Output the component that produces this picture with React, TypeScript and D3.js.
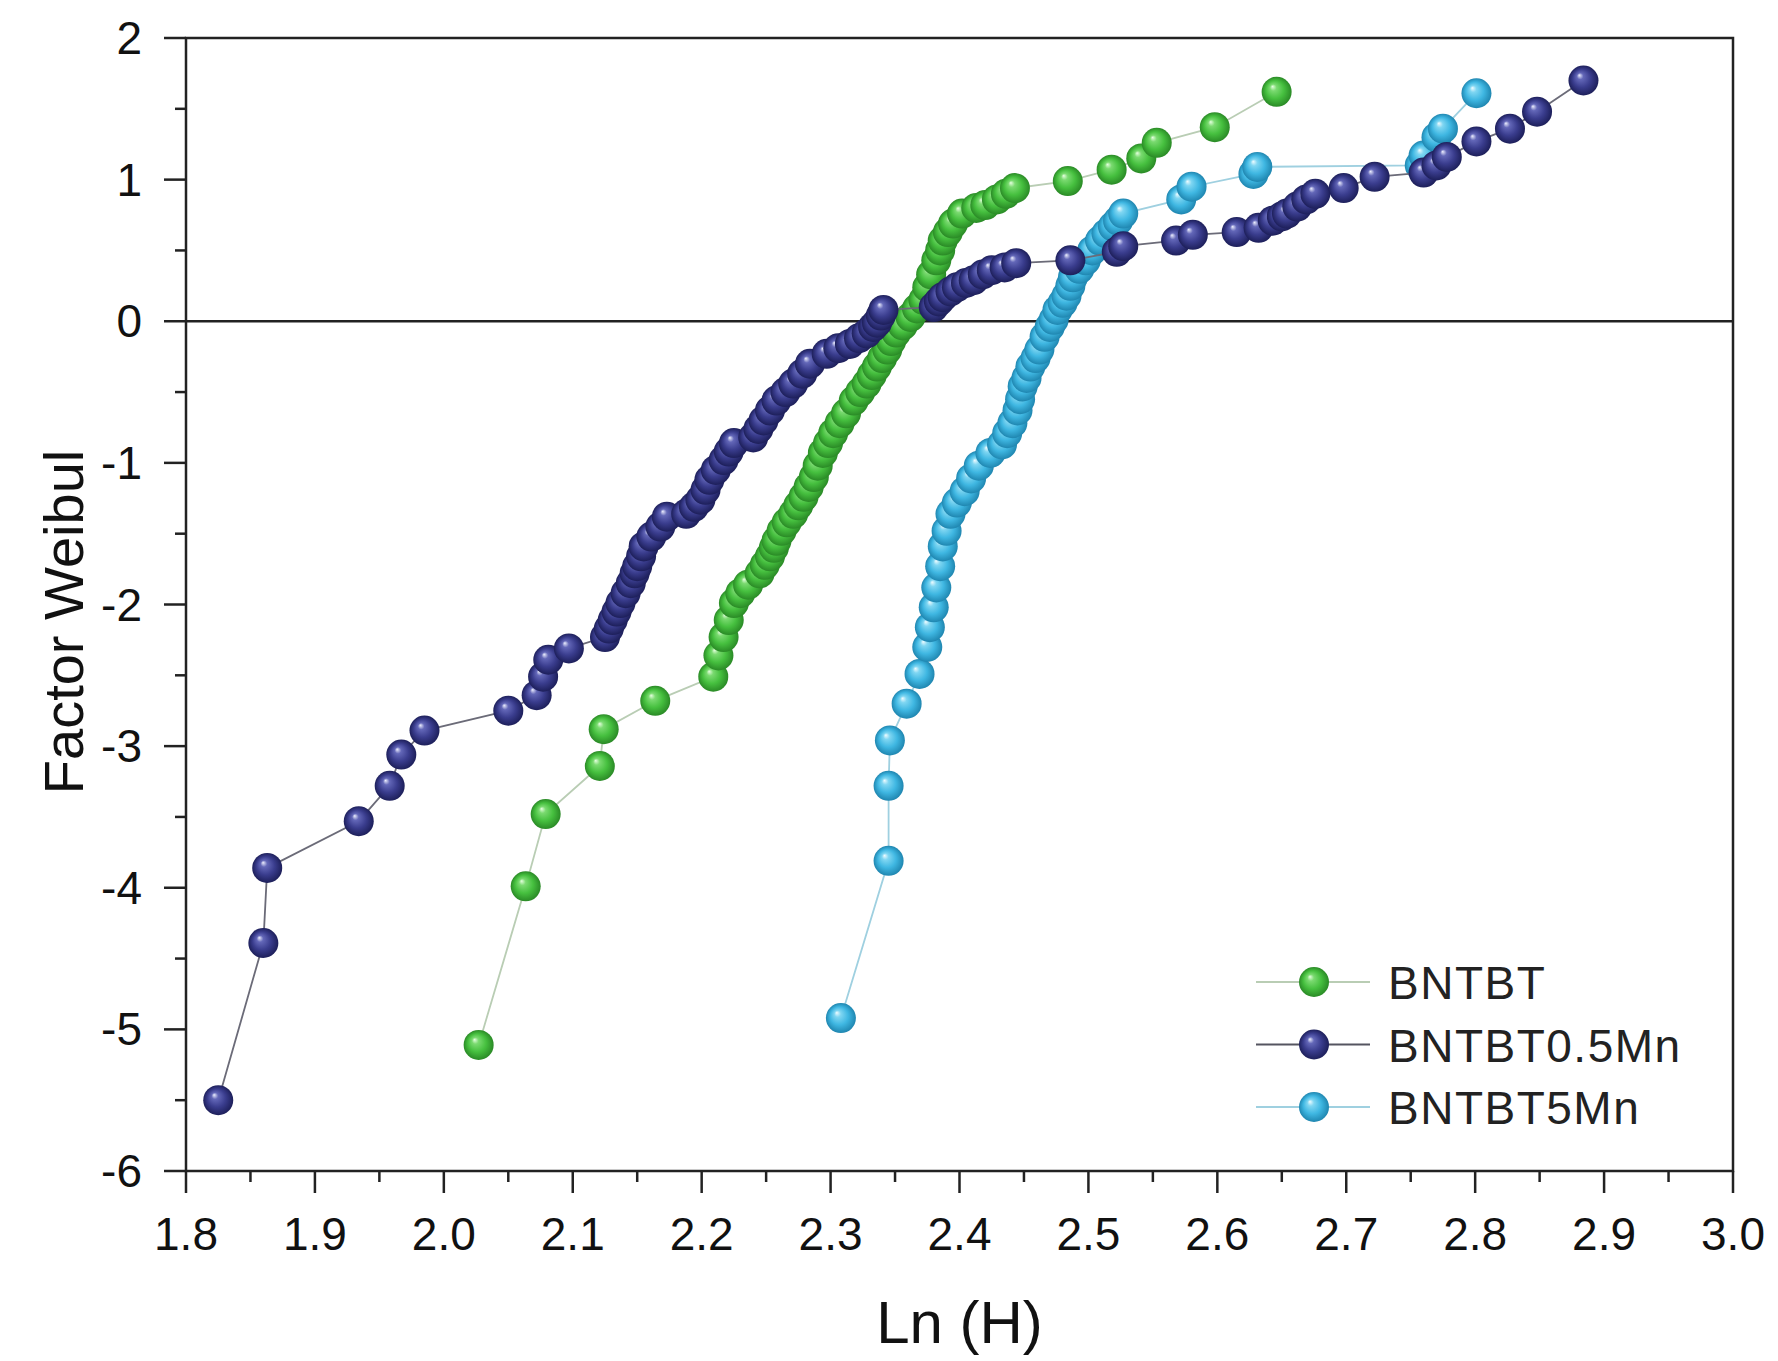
import React from 'react';
import * as d3 from 'd3';

const W = 1778;
const H = 1361;

// x: Ln(H), y: Weibull factor
const xMajorTicks = [1.8, 1.9, 2.0, 2.1, 2.2, 2.3, 2.4, 2.5, 2.6, 2.7, 2.8, 2.9, 3.0];
const yMajorTicks = [-6, -5, -4, -3, -2, -1, 0, 1, 2];

const seriesNames = ['BNTBT', 'BNTBT0.5Mn', 'BNTBT5Mn'];

const bntbt: [number, number][] = [
  [2.027, -5.11], [2.0635, -3.99], [2.079, -3.48], [2.121, -3.14], [2.124, -2.88], [2.164, -2.68],
  [2.209, -2.51], [2.213, -2.36], [2.217, -2.23], [2.221, -2.11], [2.225, -1.99], [2.230, -1.92],
  [2.236, -1.86], [2.245, -1.78], [2.249, -1.72], [2.253, -1.66], [2.256, -1.60], [2.258, -1.55],
  [2.262, -1.48], [2.266, -1.42], [2.271, -1.36], [2.275, -1.30], [2.279, -1.24], [2.283, -1.17],
  [2.287, -1.10], [2.290, -1.02], [2.294, -0.93], [2.298, -0.86], [2.302, -0.79], [2.307, -0.72],
  [2.312, -0.65], [2.318, -0.56], [2.323, -0.50], [2.328, -0.44], [2.332, -0.38], [2.336, -0.32],
  [2.340, -0.26], [2.344, -0.20], [2.347, -0.14], [2.351, -0.08], [2.356, -0.03], [2.362, 0.03],
  [2.367, 0.09], [2.372, 0.15], [2.375, 0.24], [2.378, 0.33], [2.382, 0.43], [2.385, 0.50],
  [2.387, 0.57], [2.391, 0.63], [2.395, 0.69], [2.402, 0.76], [2.413, 0.80], [2.420, 0.82],
  [2.429, 0.86], [2.436, 0.90], [2.443, 0.94], [2.484, 0.99], [2.518, 1.07], [2.541, 1.15],
  [2.553, 1.26], [2.598, 1.37], [2.646, 1.62],
];

const bntbt05Mn: [number, number][] = [
  [1.825, -5.50], [1.860, -4.39], [1.863, -3.86], [1.934, -3.53], [1.958, -3.28], [1.967, -3.06],
  [1.985, -2.89], [2.050, -2.75], [2.072, -2.64], [2.077, -2.51], [2.081, -2.39], [2.097, -2.31],
  [2.125, -2.23], [2.128, -2.17], [2.131, -2.11], [2.134, -2.05], [2.137, -1.99], [2.141, -1.92],
  [2.145, -1.85], [2.148, -1.78], [2.150, -1.73], [2.153, -1.66], [2.155, -1.59], [2.161, -1.52],
  [2.168, -1.45], [2.173, -1.38], [2.188, -1.36], [2.194, -1.31], [2.199, -1.26], [2.203, -1.19],
  [2.206, -1.12], [2.211, -1.05], [2.217, -0.98], [2.221, -0.92], [2.225, -0.86], [2.240, -0.82],
  [2.244, -0.76], [2.248, -0.70], [2.253, -0.63], [2.258, -0.56], [2.265, -0.50], [2.271, -0.44],
  [2.278, -0.37], [2.284, -0.30], [2.297, -0.23], [2.306, -0.19], [2.315, -0.16], [2.322, -0.12],
  [2.328, -0.085], [2.333, -0.04], [2.336, -0.01], [2.339, 0.04], [2.341, 0.08], [2.380, 0.10],
  [2.384, 0.14], [2.387, 0.17], [2.393, 0.21], [2.398, 0.24], [2.405, 0.27], [2.411, 0.29],
  [2.418, 0.33], [2.425, 0.36], [2.435, 0.38], [2.444, 0.41], [2.486, 0.43], [2.522, 0.49],
  [2.527, 0.53], [2.568, 0.57], [2.581, 0.61], [2.615, 0.63], [2.632, 0.66], [2.643, 0.71],
  [2.650, 0.74], [2.654, 0.76], [2.662, 0.81], [2.669, 0.86], [2.676, 0.90], [2.698, 0.94],
  [2.722, 1.02], [2.760, 1.05], [2.770, 1.10], [2.778, 1.16], [2.801, 1.27], [2.827, 1.36],
  [2.848, 1.48], [2.884, 1.70],
];

const bntbt5Mn: [number, number][] = [
  [2.308, -4.92], [2.345, -3.81], [2.345, -3.28], [2.346, -2.96], [2.359, -2.70], [2.369, -2.49],
  [2.375, -2.30], [2.377, -2.16], [2.380, -2.02], [2.382, -1.88], [2.385, -1.73], [2.387, -1.59],
  [2.390, -1.48], [2.393, -1.36], [2.398, -1.28], [2.404, -1.20], [2.409, -1.11], [2.415, -1.02],
  [2.424, -0.93], [2.433, -0.87], [2.437, -0.79], [2.441, -0.72], [2.445, -0.63], [2.447, -0.55],
  [2.449, -0.46], [2.452, -0.40], [2.455, -0.32], [2.459, -0.26], [2.462, -0.20], [2.466, -0.11],
  [2.470, -0.04], [2.473, 0.01], [2.476, 0.08], [2.480, 0.13], [2.483, 0.18], [2.486, 0.25],
  [2.488, 0.31], [2.493, 0.37], [2.498, 0.43], [2.503, 0.50], [2.509, 0.57], [2.514, 0.62],
  [2.519, 0.67], [2.523, 0.71], [2.527, 0.76], [2.572, 0.86], [2.580, 0.95], [2.628, 1.04],
  [2.631, 1.09], [2.757, 1.10], [2.760, 1.17], [2.770, 1.30], [2.775, 1.36], [2.801, 1.61],
];

type Style = { id: string; hi: string; mid: string; base: string; edge: string; line: string };

const styles: Style[] = [
  { id: 'ballGreen', hi: '#e6ffe0', mid: '#7ada70', base: '#46c03f', edge: '#2a8a26', line: '#b9cdb4' },
  { id: 'ballNavy', hi: '#eef0ff', mid: '#6367b8', base: '#3a3d8e', edge: '#1d1f5a', line: '#6b6b78' },
  { id: 'ballCyan', hi: '#f0fcff', mid: '#7fd6f2', base: '#3fb7e2', edge: '#1f86b0', line: '#9fd0e0' },
];

const seriesData = [bntbt, bntbt05Mn, bntbt5Mn];
// drawing order: green, cyan, navy on top
const drawOrder = [0, 2, 1];

const FONT = '"Liberation Sans", Arial, Helvetica, sans-serif';
const R = 15;

export default function App() {
  const x = d3.scaleLinear().domain([1.8, 3.0]).range([186, 1733]);
  const y = d3.scaleLinear().domain([-6, 2]).range([1171, 38]);

  const line = d3
    .line<[number, number]>()
    .x((d) => x(d[0]))
    .y((d) => y(d[1]));

  const xMinor = d3.range(1.85, 3.0, 0.1);
  const yMinor = d3.range(-5.5, 2, 1);

  const legendX = 1314;
  const legendY = [982, 1044.5, 1107];

  return (
    <svg
      width={W}
      height={H}
      viewBox={`0 0 ${W} ${H}`}
      style={{ position: 'absolute', left: 0, top: 0, display: 'block', background: '#ffffff' }}
    >
      <defs>
        {styles.map((s) => (
          <radialGradient key={s.id} id={s.id} cx="0.5" cy="0.5" r="0.5" fx="0.36" fy="0.32">
            <stop offset="0" stopColor={s.hi} />
            <stop offset="0.22" stopColor={s.mid} />
            <stop offset="0.6" stopColor={s.base} />
            <stop offset="1" stopColor={s.edge} />
          </radialGradient>
        ))}
      </defs>

      <rect x={0} y={0} width={W} height={H} fill="#ffffff" />

      {/* zero reference line */}
      <line x1={x(1.8)} x2={x(3.0)} y1={y(0)} y2={y(0)} stroke="#222" strokeWidth={2.5} />

      {/* series */}
      {drawOrder.map((i) => {
        const s = styles[i];
        const data = seriesData[i];
        return (
          <g key={seriesNames[i]}>
            <path d={line(data) || ''} fill="none" stroke={s.line} strokeWidth={1.8} />
            {data.map((d, k) => (
              <circle key={k} cx={x(d[0])} cy={y(d[1])} r={R} fill={`url(#${s.id})`} />
            ))}
          </g>
        );
      })}

      {/* frame */}
      <rect
        x={x(1.8)}
        y={y(2)}
        width={x(3.0) - x(1.8)}
        height={y(-6) - y(2)}
        fill="none"
        stroke="#222"
        strokeWidth={2.5}
      />

      {/* x ticks */}
      {xMajorTicks.map((t) => (
        <g key={`xt${t}`}>
          <line x1={x(t)} x2={x(t)} y1={y(-6)} y2={y(-6) + 22} stroke="#222" strokeWidth={2.5} />
          <text
            x={x(t)}
            y={1250}
            textAnchor="middle"
            fontFamily={FONT}
            fontSize={46}
            fill="#111"
          >
            {t.toFixed(1)}
          </text>
        </g>
      ))}
      {xMinor.map((t) => (
        <line key={`xm${t}`} x1={x(t)} x2={x(t)} y1={y(-6)} y2={y(-6) + 11} stroke="#222" strokeWidth={2.5} />
      ))}

      {/* y ticks */}
      {yMajorTicks.map((t) => (
        <g key={`yt${t}`}>
          <line x1={x(1.8) - 22} x2={x(1.8)} y1={y(t)} y2={y(t)} stroke="#222" strokeWidth={2.5} />
          <text
            x={142}
            y={y(t) + 16}
            textAnchor="end"
            fontFamily={FONT}
            fontSize={46}
            fill="#111"
          >
            {t < 0 ? `-${Math.abs(t)}` : `${t}`}
          </text>
        </g>
      ))}
      {yMinor.map((t) => (
        <line key={`ym${t}`} x1={x(1.8) - 11} x2={x(1.8)} y1={y(t)} y2={y(t)} stroke="#222" strokeWidth={2.5} />
      ))}

      {/* axis titles */}
      <text
        x={(x(1.8) + x(3.0)) / 2}
        y={1343}
        textAnchor="middle"
        fontFamily={FONT}
        fontSize={60}
        fill="#111"
      >
        Ln (H)
      </text>
      <text
        transform={`translate(83, 622) rotate(-90)`}
        textAnchor="middle"
        fontFamily={FONT}
        fontSize={56}
        fill="#111"
      >
        Factor Weibul
      </text>

      {/* legend */}
      {[0, 1, 2].map((i) => {
        const s = styles[i];
        const ly = legendY[i];
        return (
          <g key={`lg${i}`}>
            <line
              x1={legendX - 58}
              x2={legendX + 56}
              y1={ly}
              y2={ly}
              stroke={i === 1 ? '#555560' : s.line}
              strokeWidth={2}
            />
            <circle cx={legendX} cy={ly} r={R} fill={`url(#${s.id})`} />
            <text
              x={1388}
              y={ly + 17}
              fontFamily={FONT}
              fontSize={46}
              letterSpacing={1.5}
              fill="#222"
            >
              {seriesNames[i]}
            </text>
          </g>
        );
      })}
    </svg>
  );
}
